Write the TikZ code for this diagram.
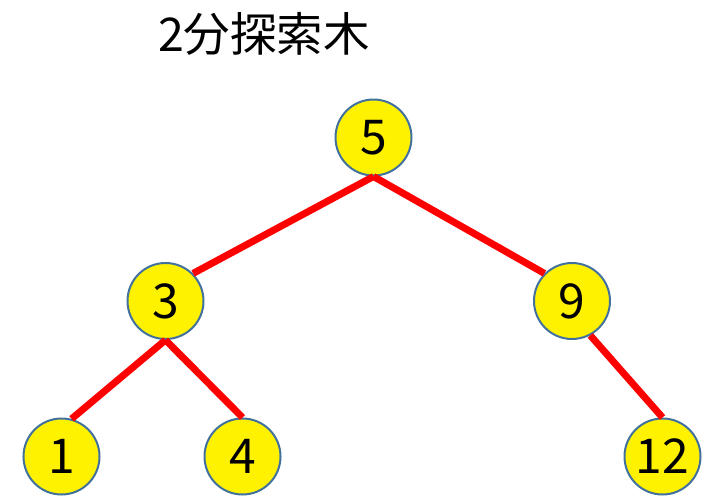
\documentclass[tikz,border=0pt]{standalone}
\usepackage{fontspec}
\newfontfamily\jpfont{Noto Sans CJK JP}
\begin{document}
\begin{tikzpicture}[x=1pt,y=-1pt,
  bnode/.style={circle,draw=blueoutline,line width=2pt,fill=yellow,minimum size=76pt,inner sep=0pt,font=\jpfont\fontsize{48}{48}\selectfont},
  edge/.style={draw=red,line width=7pt}]
\definecolor{blueoutline}{HTML}{41719C}
\useasboundingbox (0,0) rectangle (718,498);
\node[font=\jpfont\fontsize{46.5}{46.5}\selectfont,inner sep=0pt] (title) at (264,34) {2分探索木};
\node[bnode] (n5) at (373.5,137.5) {5};
\node[bnode] (n3) at (165.5,301) {3};
\node[bnode] (n9) at (572,301) {9};
\node[bnode] (n1) at (61.5,456.5) {1};
\node[bnode] (n4) at (242.5,456.5) {4};
\node[bnode] (n12) at (662.5,456.5) {12};
\draw[edge] (n5.south) -- (n3.north east);
\draw[edge] (n5.south) -- (n9.north west);
\draw[edge] (n3.south) -- (n1.75);
\draw[edge] (n3.south) -- (n4.north);
\draw[edge] (n9.-62) -- (n12.north);
\end{tikzpicture}
\end{document}
